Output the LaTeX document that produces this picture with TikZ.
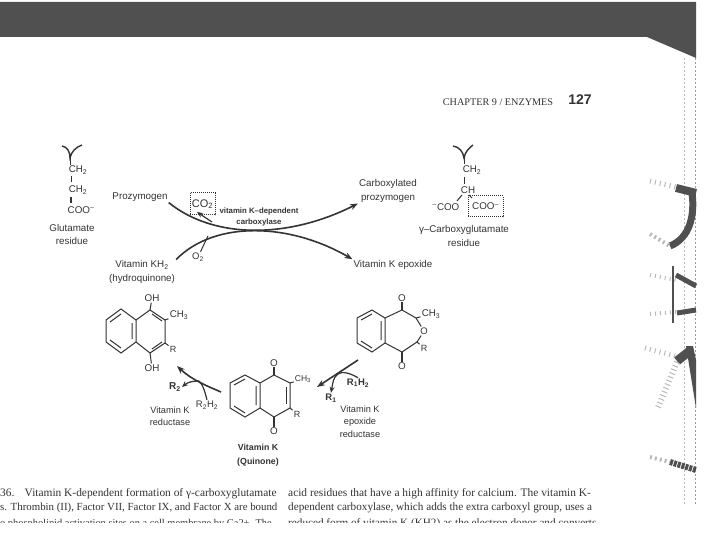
\documentclass[tikz,border=0pt]{standalone}
\usepackage{fontspec}
\setmainfont{Liberation Sans}
\newfontfamily\bookfont{Liberation Serif}
\usetikzlibrary{arrows.meta, positioning, calc}
\definecolor{inkgray}{HTML}{333333}
\definecolor{bandgray}{HTML}{505050}

\begin{document}
\begin{tikzpicture}[
        x=1pt, y=-1pt,
        chem/.style={font=\fontsize{9.8}{13.5}\selectfont, text=inkgray, inner sep=1pt, align=center},
        small/.style={font=\fontsize{9.2}{12.5}\selectfont, text=inkgray, inner sep=1pt, align=center},
        book/.style={font=\bookfont\fontsize{11.4}{13}\selectfont, text=inkgray, inner sep=0pt, anchor=west},
        bond/.style={draw=inkgray, line width=1pt},
        fork/.style={draw=inkgray, line width=1.4pt},
        arrow/.style={-{Stealth[length=8pt, width=6pt]}, draw=inkgray, line width=1.6pt},
        thin arrow/.style={-{Stealth[length=6pt, width=5pt]}, draw=inkgray, line width=1.2pt},
        dotbox/.style={draw=inkgray, line width=1pt, densely dotted, inner sep=1pt},
        scanmark/.style={draw=bandgray, line cap=butt},
        scanline/.style={draw=gray!55, line width=0.5pt, dash pattern=on 2pt off 2pt}
    ]
        \useasboundingbox (0,0) rectangle (720,540);

        % Dark band at the top
        \fill[bandgray] (0,2) -- (696,2) -- (696,58) -- (647,37) -- (0,37) -- cycle;

        % Running head
        \node[font=\bookfont\fontsize{10.2}{12}\selectfont, text=inkgray, inner sep=0pt] (head) at (498,102) {CHAPTER 9 / ENZYMES};
        \node[font=\bfseries\fontsize{14}{14}\selectfont, text=inkgray, inner sep=0pt] (pagenum) at (580,100) {127};

        % Glutamate residue
        \draw[fork] (62,146) .. controls (67,147) and (70,151) .. (70,158) .. controls (71,152) and (76,147) .. (82,145);
        \draw[bond] (70,158) -- (70,165);
        \node[chem] (gluA) at (78,170) {CH\textsubscript{2}};
        \draw[bond] (71,176) -- (71,182);
        \node[chem] (gluB) at (78,190) {CH\textsubscript{2}};
        \draw[bond, line width=1.5pt] (71,197) -- (71,203);
        \node[chem] (gluC) at (81,210) {COO\textsuperscript{--}};
        \node[chem] (glucap) at (72,234.5) {Glutamate\\residue};

        % Carboxylation cycle
        \node[chem] (proz) at (140,197) {Prozymogen};
        \node[chem] (carbox) at (388,191) {Carboxylated\\prozymogen};
        \node[chem] (kh) at (142,272) {Vitamin KH\textsubscript{2}\\(hydroquinone)};
        \node[chem] (epox) at (393,265) {Vitamin K epoxide};
        \node[dotbox, chem, font=\fontsize{11}{12}\selectfont, minimum width=25pt, minimum height=22pt] (co2) at (202.5,204) {CO\textsubscript{2}};
        \node[small, font=\bfseries\fontsize{7.8}{11}\selectfont] (enzA) at (259,217) {vitamin K--dependent\\carboxylase};
        \node[chem, font=\fontsize{9.5}{10}\selectfont] (oxy) at (198,257) {O\textsubscript{2}};
        \coordinate (co2foot) at (212,222);
        \coordinate (co2tip) at (197,212);
        \coordinate (oxyfoot) at (208,236);

        \draw[arrow] (proz.south east) .. controls (215,240) and (290,238) .. (carbox.south west);
        \draw[arrow] (kh.north east) .. controls (215,220) and (290,223) .. (epox.north west);
        \draw[thin arrow] (co2foot) -- (co2tip);
        \draw[bond] (oxy) -- (oxyfoot);

        % Gamma-carboxyglutamate residue
        \draw[fork] (453,146) .. controls (459,147) and (463,151) .. (464,158) .. controls (465,152) and (469,148) .. (473,145);
        \draw[bond] (464,158) -- (464,164);
        \node[chem] (glaA) at (472,170) {CH\textsubscript{2}};
        \draw[bond] (464,177) -- (464,184);
        \node[chem] (glaB) at (468,190) {CH};
        \node[chem] (glaC) at (446,207) {\textsuperscript{--}COO};
        \node[dotbox, chem, minimum width=35pt, minimum height=21pt] (glaD) at (485.5,206.5) {COO\textsuperscript{--}};
        \draw[bond] (462,195) -- (457,201);
        \draw[bond] (469,195) -- (472,198);
        \node[chem] (glacap) at (464,236) {γ--Carboxyglutamate\\residue};

        % Hydroquinone
        \draw[bond] (121,309) -- (136,320) -- (136,342) -- (121,353) -- (106,342) -- (106,320) -- cycle;
        \draw[bond] (136,320) -- (150,310) -- (165,320) -- (165,343) -- (150,353) -- (136,342);
        \draw[bond] (110,322) -- (121,314) (132,323) -- (132,339) (110,340) -- (121,348);
        \draw[bond] (152,314) -- (162,321) (152,349) -- (162,342);
        \node[chem] (hqtop) at (152,298) {OH};
        \node[chem] (hqme) at (179,315) {CH\textsubscript{3}};
        \node[chem, font=\fontsize{9}{10}\selectfont] (hqr) at (173,349) {R};
        \node[chem] (hqbot) at (152,368) {OH};
        \draw[bond] (150,310) -- (hqtop);
        \draw[bond] (150,353) -- (hqbot);
        \draw[bond] (165,320) -- (hqme);
        \draw[bond] (165,343) -- (hqr);

        % Quinone
        \draw[bond] (245,375) -- (260,383) -- (260,408) -- (245,417) -- (230,408) -- (230,383) -- cycle;
        \draw[bond] (260,383) -- (274,375) -- (290,383) -- (290,408) -- (274,417) -- (260,408);
        \draw[bond] (234,385) -- (245,379) (256,386) -- (256,405) (234,406) -- (245,413);
        \draw[bond] (286,387) -- (286,404);
        \node[chem, inner sep=0pt] (qtop) at (274,363) {O};
        \node[chem, inner sep=0pt] (qbot) at (274,431) {O};
        \node[chem, font=\fontsize{8.5}{10}\selectfont] (qme) at (303,379) {CH\textsubscript{3}};
        \node[chem, font=\fontsize{9}{10}\selectfont] (qr) at (297,414) {R};
        \draw[bond, line width=1.5pt] (274,375) -- (qtop);
        \draw[bond, line width=1.5pt] (274,417) -- (qbot);
        \draw[bond] (290,383) -- (qme);
        \draw[bond] (290,408) -- (qr);
        \node[chem, font=\bfseries\fontsize{8.8}{13.5}\selectfont] (qcap) at (258,455) {Vitamin K\\(Quinone)};

        % Epoxide
        \draw[bond] (372,310) -- (385,318) -- (385,343) -- (372,352) -- (357,343) -- (357,318) -- cycle;
        \draw[bond] (385,318) -- (402,310) -- (416,318);
        \draw[bond] (385,343) -- (402,352) -- (417,342);
        \draw[bond] (361,320) -- (372,314) (381,321) -- (381,340) (361,341) -- (372,348);
        \node[chem, inner sep=0pt] (etop) at (402,298) {O};
        \node[chem, inner sep=0pt] (ebot) at (402,366) {O};
        \node[chem, font=\fontsize{9.5}{10}\selectfont] (eox) at (424,331) {O};
        \node[chem] (eme) at (431,314) {CH\textsubscript{3}};
        \node[chem, font=\fontsize{9}{10}\selectfont] (er) at (424,348) {R};
        \draw[bond, line width=1.5pt] (402,310) -- (etop);
        \draw[bond, line width=1.5pt] (402,352) -- (ebot);
        \draw[bond] (416,318) -- (eox) -- (417,342);
        \draw[bond] (416,318) -- (eme);
        \draw[bond] (417,342) -- (er);

        % Epoxide reductase step
        \coordinate (epstart) at (358,360);
        \coordinate (ependa) at (317,387);
        \coordinate (epjoin) at (338,374);
        \node[chem, font=\bfseries\fontsize{9.5}{10}\selectfont] (rone) at (358,383) {R\textsubscript{1}H\textsubscript{2}};
        \node[chem, font=\bfseries\fontsize{9.5}{10}\selectfont] (roneout) at (331,398) {R\textsubscript{1}};
        \node[small] (enzB) at (360,421.5) {Vitamin K\\epoxide\\reductase};
        \draw[arrow] (epstart) -- (ependa);
        \draw[bond, line width=1.2pt] (rone.north) .. controls (350,373) and (342,371) .. (epjoin);
        \draw[thin arrow] (epjoin) .. controls (333,378) and (333,382) .. (roneout.north);

        % Quinone reductase step
        \coordinate (qstart) at (221,392);
        \coordinate (qend) at (177,366);
        \coordinate (qjoin) at (199,381);
        \node[chem, font=\bfseries\fontsize{10}{10}\selectfont] (rtwo) at (175,387) {R\textsubscript{2}};
        \node[chem, font=\fontsize{9.5}{10}\selectfont] (rtwoin) at (207,405) {R\textsubscript{2}H\textsubscript{2}};
        \node[small] (enzC) at (170,416) {Vitamin K\\reductase};
        \draw[arrow] (qstart) .. controls (207,386) and (192,380) .. (qend);
        \draw[thin arrow] (qjoin) .. controls (193,381) and (188,382) .. (rtwo.east);
        \draw[bond, line width=1.2pt] (rtwoin.north) .. controls (205,393) and (204,386) .. (qjoin);

        % Caption at the foot of the page
        \node[book] (capA) at (0,494) {36.\hspace{0.9em}Vitamin K-dependent formation of γ-carboxyglutamate};
        \node[book, font=\bookfont\fontsize{10.85}{13}\selectfont] (capB) at (0,508) {s. Thrombin (II), Factor VII, Factor IX, and Factor X are bound};
        \node[book] (capC) at (288,494) {acid residues that have a high affinity for calcium. The vitamin K-};
        \node[book, font=\bookfont\fontsize{11.2}{13}\selectfont] (capD) at (288,508) {dependent carboxylase, which adds the extra carboxyl group, uses a};
        \begin{scope}
            \clip (0,515) rectangle (620,522);
            \node[book, font=\bookfont\fontsize{10.4}{13}\selectfont] (capE) at (0,524) {o phospholipid activation sites on a cell membrane by Ca2+. The};
            \node[book, font=\bookfont\fontsize{11.2}{13}\selectfont] (capF) at (288,524) {reduced form of vitamin K (KH2) as the electron donor and converts};
        \end{scope}

        % Print showing through at the page edge
        \draw[scanline] (684,58) -- (684,505);
        \draw[scanline, draw=gray!80] (695,58) -- (695,505);
        \draw[scanmark, line width=8pt] (676,188) -- (696,193);
        \draw[scanmark, line width=7pt] (692,193) .. controls (695,215) and (690,238) .. (670,246);
        \draw[scanline, line width=4pt, dash pattern=on 2pt off 3pt] (650,234) -- (670,246);
        \draw[scanline, line width=5pt, dash pattern=on 1pt off 4pt] (650,181) -- (676,187);
        \draw[scanmark, line width=2.5pt] (673,266) -- (673,323);
        \draw[scanmark, line width=5pt] (676,275) -- (696,286);
        \draw[scanmark, line width=5pt] (677,313) -- (696,310);
        \draw[scanline, line width=4pt, dash pattern=on 1pt off 4pt] (650,275) -- (676,280);
        \draw[scanline, line width=4pt, dash pattern=on 1pt off 4pt] (650,314) -- (676,312);
        \draw[scanmark, line width=9pt] (677,361) -- (691,350);
        \fill[bandgray] (686,346) -- (693,346) -- (696,360) -- (696,408) -- cycle;
        \draw[scanline, line width=6pt, dash pattern=on 1pt off 3pt] (677,362) -- (657,410);
        \draw[scanline, line width=5pt, dash pattern=on 1pt off 4pt] (645,348) -- (675,356);
        \draw[scanmark, line width=6pt, dash pattern=on 3pt off 1pt] (670,462) -- (696,470);
        \draw[scanline, line width=4pt, dash pattern=on 2pt off 3pt] (650,457) -- (670,462);
    \end{tikzpicture}
\end{document}
